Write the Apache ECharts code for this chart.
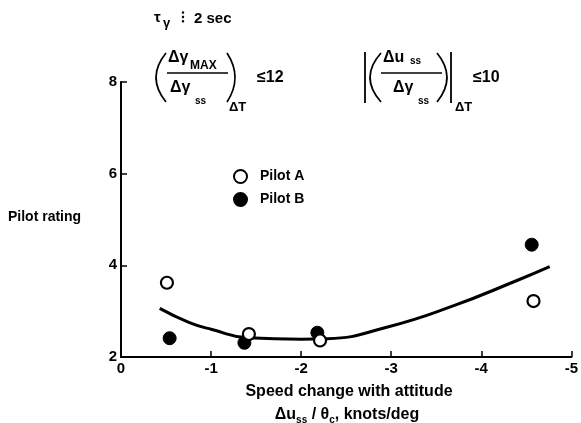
<!DOCTYPE html>
<html><head><meta charset="utf-8">
<script src="https://cdn.jsdelivr.net/npm/echarts@6/dist/echarts.min.js"></script>
<style>html,body{margin:0;padding:0;background:#fff}#c{width:581px;height:423px}</style>
</head><body><div id="c"></div>
<script>
// Data
const xTicks = [0, -1, -2, -3, -4, -5];
const yTicks = [2, 4, 6, 8];
const pilotA_x = [-0.51, -1.42, -2.21, -4.58];
const pilotA_y = [3.62, 2.50, 2.36, 3.22];
const pilotB_x = [-0.54, -1.37, -2.18, -4.56];
const pilotB_y = [2.41, 2.31, 2.53, 4.45];
const fit_x = [-0.43, -0.76, -1.01, -1.41, -2.0, -2.29, -2.95, -3.68, -4.41, -4.76];
const fit_y = [3.06, 2.75, 2.60, 2.42, 2.39, 2.40, 2.65, 3.11, 3.68, 3.97];

const zip = (a, b) => a.map((v, i) => [v, b[i]]);
const F = 'Liberation Sans, Arial, sans-serif';
const txt = (x, y, s, size, extra) => Object.assign({
  type: 'text', x: x, y: y,
  style: { text: s, font: 'bold ' + size + 'px ' + F, fill: '#000', textVerticalAlign: 'middle' }
}, extra || {});
const paren = (x, cp) => ({ type: 'bezierCurve', shape: { x1: x, y1: 53, x2: x, y2: 102, cpx1: cp, cpy1: 77.5 },
  style: { stroke: '#000', lineWidth: 1.7, fill: null } });
const ln = (x1, y1, x2, y2, w) => ({ type: 'line', shape: { x1, y1, x2, y2 }, style: { stroke: '#000', lineWidth: w || 1.4 } });

const chart = echarts.init(document.getElementById('c'));
chart.setOption({
  backgroundColor: '#fff',
  animation: false,
  grid: { left: 121, right: 4, top: 82, bottom: 66 },
  xAxis: {
    type: 'value', min: -5, max: 0, interval: 1, inverse: true,
    axisLine: { lineStyle: { color: '#000', width: 2 } },
    axisTick: { inside: true, length: 6, lineStyle: { color: '#000', width: 1.5 } },
    splitLine: { show: false },
    axisLabel: { color: '#000', fontFamily: F, fontWeight: 'bold', fontSize: 15, margin: 4,
      formatter: v => xTicks.indexOf(v) >= 0 ? String(v) : '' }
  },
  yAxis: {
    type: 'value', min: 2, max: 8, interval: 2,
    axisLine: { show: true, lineStyle: { color: '#000', width: 2 } },
    axisTick: { show: true, inside: true, length: 6, lineStyle: { color: '#000', width: 1.5 } },
    splitLine: { show: false },
    axisLabel: { color: '#000', fontFamily: F, fontWeight: 'bold', fontSize: 15, margin: 4,
      formatter: v => yTicks.indexOf(v) >= 0 ? String(v) : '' }
  },
  legend: {
    orient: 'vertical', left: 228, top: 164, itemWidth: 13, itemHeight: 13, itemGap: 8,
    icon: 'circle',
    textStyle: { color: '#000', fontFamily: F, fontWeight: 'bold', fontSize: 14, padding: [0, 0, 0, 8] },
    data: ['Pilot A', 'Pilot B']
  },
  series: [
    { name: 'fit', type: 'line', data: zip(fit_x, fit_y), smooth: 0.5, showSymbol: false,
      lineStyle: { color: '#000', width: 3 }, z: 1 },
    { name: 'Pilot B', type: 'scatter', data: zip(pilotB_x, pilotB_y), symbol: 'circle', symbolSize: 13,
      itemStyle: { color: '#000', borderColor: '#000', borderWidth: 1, opacity: 1 }, z: 2 },
    { name: 'Pilot A', type: 'scatter', data: zip(pilotA_x, pilotA_y), symbol: 'circle', symbolSize: 12,
      itemStyle: { color: '#fff', borderColor: '#000', borderWidth: 2.2, opacity: 1 }, z: 3 }
  ],
  graphic: [
    txt(8, 217, 'Pilot rating', 14),
    // axis title
    { type: 'text', x: 349, y: 392, style: { text: 'Speed change with attitude', font: 'bold 16px ' + F, fill: '#000', textAlign: 'center', textVerticalAlign: 'middle' } },
    { type: 'text', x: 347, y: 415, style: {
      text: '{m|Δu}{s|ss}{m| / θ}{s|c}{m|, knots/deg}', textAlign: 'center', textVerticalAlign: 'middle', fill: '#000',
      rich: { m: { font: 'bold 16px ' + F, fill: '#000' }, s: { font: 'bold 10px ' + F, fill: '#000', padding: [10, 0, 0, 0] } } } },
    // tau line
    txt(154, 18, 'τ', 15), txt(163, 23, 'γ', 13), txt(181, 18, '⁝', 15), txt(194, 19, '2 sec', 15),
    // left formula
    paren(166, 146), paren(227, 243),
    txt(168, 58, 'Δγ', 16), txt(190, 66, 'MAX', 12),
    ln(167, 73, 228, 73, 1.3),
    txt(170, 88, 'Δγ', 16), txt(195, 101, 'ss', 10),
    txt(229, 107, 'ΔT', 13),
    txt(257, 78, '≤12', 16),
    // right formula
    ln(365, 52, 365, 103, 1.8), paren(381, 359), paren(437, 457), ln(451, 52, 451, 103, 1.8),
    txt(383, 58, 'Δu', 16), txt(410, 61, 'ss', 10),
    ln(381, 73, 442, 73, 1.3),
    txt(393, 88, 'Δγ', 16), txt(418, 101, 'ss', 10),
    txt(455, 107, 'ΔT', 13),
    txt(473, 78, '≤10', 16)
  ]
});
</script></body></html>
